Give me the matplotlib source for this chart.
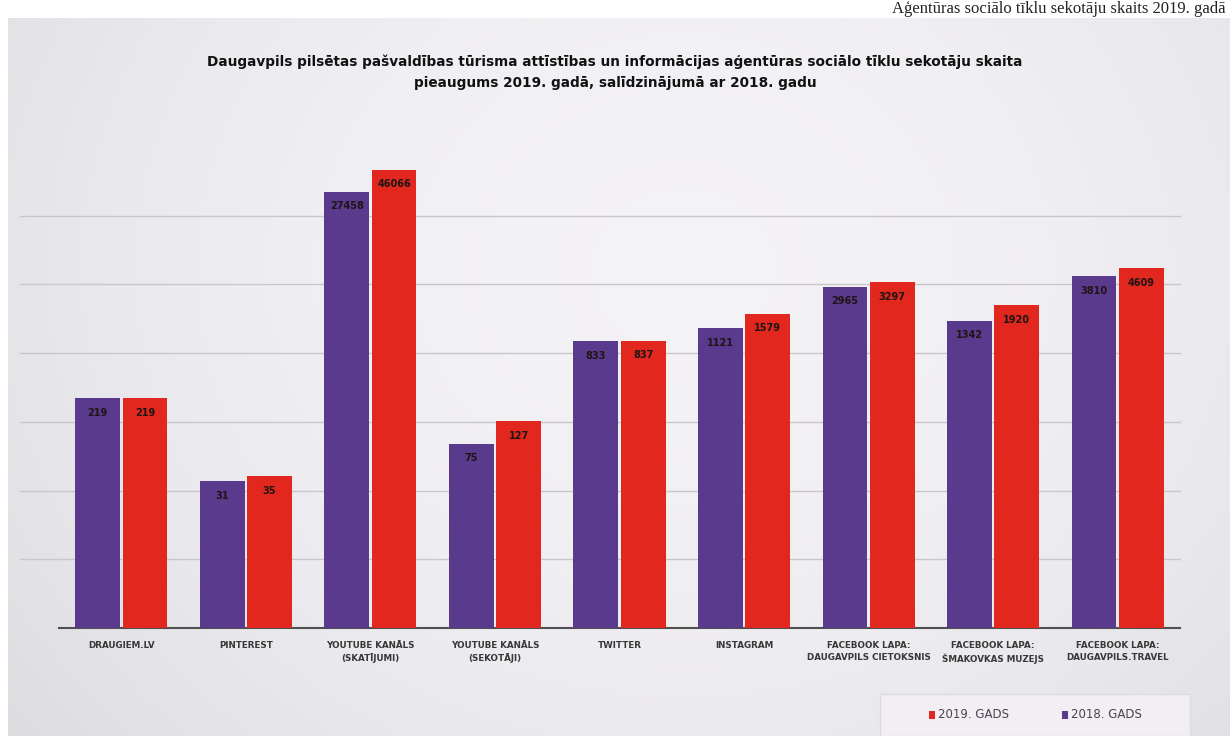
import numpy as np
import matplotlib
matplotlib.use("Agg")
from matplotlib import pyplot as plt
from matplotlib.patches import Rectangle

categories = ["DRAUGIEM.LV", "PINTEREST", "YOUTUBE KANĀLS\n(SKATĪJUMI)", "YOUTUBE KANĀLS\n(SEKOTĀJI)",
              "TWITTER", "INSTAGRAM", "FACEBOOK LAPA:\nDAUGAVPILS CIETOKSNIS",
              "FACEBOOK LAPA:\nŠMAKOVKAS MUZEJS", "FACEBOOK LAPA:\nDAUGAVPILS.TRAVEL"]
v2018 = [219, 31, 27458, 75, 833, 1121, 2965, 1342, 3810]
v2019 = [219, 35, 46066, 127, 837, 1579, 3297, 1920, 4609]
labels = ["2019. GADS", "2018. GADS"]

purple = "#5a3a8c"
red = "#e2281e"
sans = ["DejaVu Sans"]

fig = plt.figure(figsize=(12.3, 7.36), dpi=100, facecolor="white")

# scanned page background, slightly greyer at the edges
bg = fig.add_axes([8 / 1230, 0, 1, 718 / 736])
gx = np.linspace(-1, 1, 300)
gy = np.linspace(-1, 1, 200)
X, Y = np.meshgrid(gx, gy)
shade = 0.965 - 0.045 * (X - 0.1) ** 2 - 0.02 * (Y + 0.3) ** 2
bg.imshow(np.dstack([shade - 0.01, shade - 0.015, shade]), aspect="auto", extent=(0, 1, 0, 1))
bg.set_axis_off()

fig.text(1226 / 1230, 1 - 1 / 736, "Aģentūras sociālo tīklu sekotāju skaits 2019. gadā",
         fontsize=12, family="Liberation Serif", va="top", ha="right", color="#222222")

ax = fig.add_axes([59 / 1230, 108 / 736, 1121 / 1230, 481 / 736])
ax.patch.set_alpha(0)
ax.set_yscale("log", base=5)
ax.set_ylim(1, 5 ** 7)
ax.set_xlim(-0.5, len(categories) - 0.5)

x = np.arange(len(categories))
w = 0.36
b18 = ax.bar(x - w / 2 - 0.01, v2018, w, color=purple, zorder=3)
b19 = ax.bar(x + w / 2 + 0.01, v2019, w, color=red, zorder=3)

for bars, vals in [(b18, v2018), (b19, v2019)]:
    for rect, v in zip(bars, vals):
        ax.annotate(str(v), (rect.get_x() + rect.get_width() / 2, v), xytext=(0, -7),
                    textcoords="offset points", ha="center", va="top",
                    fontsize=7, fontweight="bold", color="#1e1414", family=sans, zorder=4)

for k in range(1, 7):
    ax.axhline(5 ** k, color="#c9c7cc", lw=1, zorder=1, xmin=-0.035, clip_on=False)

ax.set_yticks([])
ax.minorticks_off()
ax.set_xticks(x)
ax.set_xticklabels(categories, fontsize=6.3, fontweight="bold", color="#383838", family=sans,
                   linespacing=1.5)
ax.tick_params(axis="x", length=0, pad=9)
for s in ["top", "right", "left"]:
    ax.spines[s].set_visible(False)
ax.spines["bottom"].set_color("#505050")
ax.spines["bottom"].set_linewidth(1.5)

fig.text(615 / 1230, 1 - 62 / 736,
         "Daugavpils pilsētas pašvaldības tūrisma attīstības un informācijas aģentūras sociālo tīklu sekotāju skaita",
         ha="center", va="center", fontsize=9.8, fontweight="bold", family=sans, color="#111111")
fig.text(615 / 1230, 1 - 83 / 736, "pieaugums 2019. gadā, salīdzinājumā ar 2018. gadu",
         ha="center", va="center", fontsize=9.8, fontweight="bold", family=sans, color="#111111")

# legend box
fig.patches.append(Rectangle((880 / 1230, 0), 310 / 1230, 42 / 736, transform=fig.transFigure,
                             facecolor="#f1eff3", edgecolor="#dddbe0", lw=1))
for lab, col, lx in [(labels[0], red, 938), (labels[1], purple, 1071)]:
    fig.patches.append(Rectangle(((lx - 9) / 1230, 17 / 736), 6 / 1230, 8 / 736,
                                 transform=fig.transFigure, facecolor=col, edgecolor="none"))
    fig.text(lx / 1230, 21 / 736, lab, fontsize=8.5, color="#4a4450", va="center", ha="left",
             family=sans)

fig.savefig("out.png", dpi=100)
